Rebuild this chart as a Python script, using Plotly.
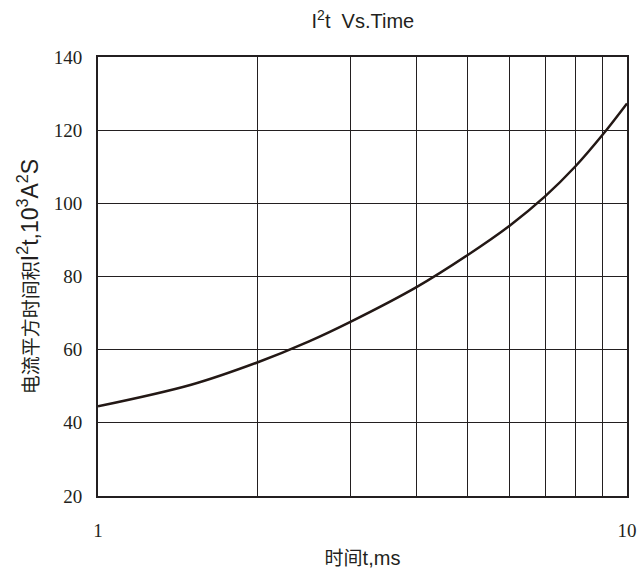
import plotly.graph_objects as go

# Data
time_ms = [1, 1.5, 2, 2.5, 3, 4, 5, 6, 7, 8, 9, 10]
i2t_k = [44.5, 50.4, 56.5, 62.2, 67.6, 77.1, 85.9, 93.9, 101.9, 110.2, 118.8, 127.3]

x_tickvals = [1, 2, 3, 4, 5, 6, 7, 8, 9, 10]
x_ticktext = ["1", "", "", "", "", "", "", "", "", "10"]
y_tickvals = [20, 40, 60, 80, 100, 120, 140]

ink = "#231f20"
serif = "Times New Roman, Liberation Serif, DejaVu Serif, serif"
sans = "Liberation Sans, Arial, sans-serif"
cjk = "Noto Sans CJK SC, sans-serif"

y_title = ('电流平方时间积'
           '<span style="font-family:Liberation Sans;font-size:23px">'
           'I<sup>2</sup>t,10<sup>3</sup>A<sup>2</sup>S</span>')
x_title = ('时间'
           '<span style="font-family:Liberation Sans;font-size:20px">t,ms</span>')

fig = go.Figure()
fig.add_trace(go.Scatter(
    x=time_ms, y=i2t_k, mode="lines",
    line=dict(color="#231815", width=2.5, shape="spline", smoothing=1.0),
    showlegend=False, hoverinfo="skip",
))

fig.update_layout(
    template="none",
    width=640, height=572,
    margin=dict(l=98, r=13, t=57, b=76, autoexpand=False),
    paper_bgcolor="white", plot_bgcolor="white",
    title=dict(text="I<sup>2</sup>t  Vs.Time", x=0.567, xanchor="center",
               y=0.963, yanchor="middle",
               font=dict(family=sans, size=20, color=ink)),
)

fig.update_xaxes(
    type="log", range=[0, 1], automargin=False,
    tickvals=x_tickvals, ticktext=x_ticktext,
    showgrid=True, gridcolor=ink, gridwidth=1.3,
    showline=True, linecolor=ink, linewidth=2, mirror=True,
    ticks="", ticklabelstandoff=16,
    tickfont=dict(family=serif, size=19, color=ink),
    title=dict(text=x_title, standoff=12,
               font=dict(family=cjk, size=19, color=ink)),
    zeroline=False,
)
fig.update_yaxes(
    range=[20, 140], tickvals=y_tickvals, automargin=False,
    showgrid=True, gridcolor=ink, gridwidth=1.3,
    showline=True, linecolor=ink, linewidth=2, mirror=True,
    ticks="", ticklabelstandoff=10,
    tickfont=dict(family=serif, size=19, color=ink),
    title=dict(text=y_title, standoff=10,
               font=dict(family=cjk, size=19, color=ink)),
    zeroline=False,
)

fig.write_html("out.html", config={"displayModeBar": False},
               post_script="document.body.style.margin='0';")
